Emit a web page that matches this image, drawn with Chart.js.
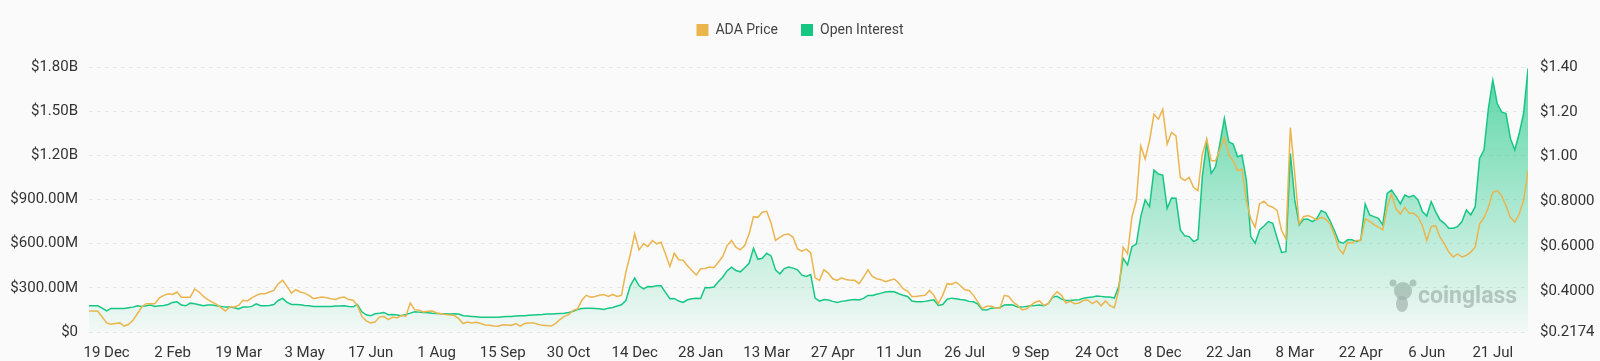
<!DOCTYPE html>
<html>
<head>
<meta charset="utf-8">
<script src="https://cdn.jsdelivr.net/npm/chart.js@4.4.1/dist/chart.umd.min.js"></script>
<style>
  html, body { margin: 0; padding: 0; background: #fafafa; }
  #wrap { width: 1600px; height: 361px; position: relative; }
</style>
</head>
<body>
<div id="wrap"><canvas id="chart"></canvas></div>
<script>
// Série diária amostrada a cada 3 dias, a partir de 7 Dez 2022
const startDate = '2022-12-07';
const stepDays = 3;

// Rótulos do eixo X (datas)
const tickDates = [
  '2022-12-19', '2023-02-02', '2023-03-19', '2023-05-03', '2023-06-17', '2023-08-01',
  '2023-09-15', '2023-10-30', '2023-12-14', '2024-01-28', '2024-03-13', '2024-04-27',
  '2024-06-11', '2024-07-26', '2024-09-09', '2024-10-24', '2024-12-08', '2025-01-22',
  '2025-03-08', '2025-04-22', '2025-06-06', '2025-07-21'
];
const monthNames = ['Jan', 'Feb', 'Mar', 'Apr', 'May', 'Jun', 'Jul', 'Aug', 'Sep', 'Oct', 'Nov', 'Dec'];

// Ticks do eixo direito (preço)
const priceTicks = [0.2174, 0.4, 0.6, 0.8, 1.0, 1.2, 1.4];

// Open Interest (milhões de USD)
const openInterestM = [
  178, 178, 178, 162, 144, 160, 160, 160, 160, 165,
  169, 178, 174, 178, 183, 174, 178, 180, 187, 201,
  205, 183, 178, 196, 192, 185, 178, 183, 183, 178,
  174, 169, 169, 165, 156, 169, 169, 174, 192, 178,
  178, 180, 187, 214, 228, 201, 187, 187, 185, 180,
  178, 174, 174, 174, 174,
  174, 176, 176, 178, 174, 171, 187, 137, 117, 110,
  124, 128, 133, 117, 119, 115, 110, 119, 128, 137,
  135, 133, 131, 128, 126, 124, 124, 122, 124, 122,
  110, 108, 106, 104, 101, 101, 101, 101, 101, 104,
  106, 106, 108, 110, 110, 113, 115, 117, 119, 122,
  122, 124, 126, 128, 133,
  140, 153, 160, 162, 162, 160, 158, 153, 162, 167,
  176, 185, 214, 314, 366, 314, 293, 309, 307, 314,
  314, 269, 226, 228, 210, 201, 219, 226, 230, 228,
  302, 300, 305, 341, 372, 415, 440, 418, 409, 436,
  467, 569, 494, 501, 535, 517, 422, 395, 431, 442,
  434, 422, 386, 377,
  390, 230, 210, 221, 217, 208, 201, 208, 212, 217,
  221, 217, 228, 248, 248, 257, 264, 271, 275, 273,
  260, 250, 241, 210, 205, 205, 208, 214, 219, 180,
  187, 223, 230, 226, 221, 217, 208, 205, 189, 151,
  149, 162, 165, 167, 183, 185, 183, 169, 169, 174,
  178, 180, 183, 178, 194,
  237, 242, 223, 214, 214, 217, 219, 230, 235, 237,
  244, 242, 237, 237, 230, 309, 501, 456, 580, 598,
  784, 897, 851, 1100, 1073, 1066, 840, 910, 908, 693,
  653, 648, 614, 630, 1055, 1292, 1077, 1122, 1281, 1450,
  1292, 1276, 1190, 1202, 1032, 648, 603, 693, 720, 750,
  738, 637, 540, 546,
  1213, 897, 727, 766, 766, 750, 770, 824, 811, 757,
  689, 614, 603, 626, 626, 614, 626, 870, 795, 784,
  772, 727, 942, 964, 919, 870, 930, 915, 928, 897,
  818, 788, 885, 818, 761, 738, 705, 705, 716, 750,
  829, 795, 851, 1179, 1236, 1518, 1710, 1552, 1495, 1484,
  1315, 1236, 1348, 1484, 1789
];

// Preço ADA (USD)
const adaPrice = [
  0.311, 0.311, 0.310, 0.284, 0.258, 0.252, 0.255, 0.258, 0.244, 0.252,
  0.270, 0.299, 0.329, 0.344, 0.344, 0.344, 0.370, 0.381, 0.388, 0.385,
  0.396, 0.373, 0.373, 0.373, 0.409, 0.396, 0.376, 0.362, 0.351, 0.341,
  0.326, 0.311, 0.329, 0.329, 0.336, 0.359, 0.356, 0.370, 0.381, 0.388,
  0.388, 0.396, 0.403, 0.433, 0.448, 0.421, 0.391, 0.406, 0.396, 0.391,
  0.381, 0.366, 0.370, 0.373, 0.370,
  0.366, 0.363, 0.370, 0.373, 0.362, 0.359, 0.336, 0.287, 0.267, 0.258,
  0.262, 0.284, 0.287, 0.273, 0.284, 0.280, 0.292, 0.287, 0.347, 0.317,
  0.314, 0.307, 0.310, 0.311, 0.302, 0.299, 0.296, 0.293, 0.292, 0.277,
  0.255, 0.262, 0.258, 0.261, 0.255, 0.249, 0.247, 0.244, 0.243, 0.250,
  0.249, 0.247, 0.255, 0.244, 0.255, 0.258, 0.258, 0.252, 0.247, 0.246,
  0.244, 0.255, 0.273, 0.287, 0.295,
  0.314, 0.320, 0.359, 0.381, 0.373, 0.376, 0.381, 0.385, 0.376, 0.385,
  0.376, 0.381, 0.485, 0.563, 0.655, 0.584, 0.611, 0.599, 0.626, 0.611,
  0.618, 0.566, 0.510, 0.569, 0.540, 0.537, 0.513, 0.492, 0.471, 0.500,
  0.501, 0.507, 0.504, 0.529, 0.554, 0.603, 0.626, 0.596, 0.584, 0.603,
  0.655, 0.732, 0.729, 0.752, 0.756, 0.703, 0.626, 0.640, 0.652, 0.655,
  0.640, 0.588, 0.578, 0.587,
  0.570, 0.459, 0.448, 0.495, 0.480, 0.455, 0.448, 0.459, 0.452, 0.448,
  0.448, 0.433, 0.462, 0.495, 0.465, 0.455, 0.451, 0.442, 0.448, 0.454,
  0.436, 0.411, 0.400, 0.376, 0.376, 0.379, 0.381, 0.403, 0.381, 0.344,
  0.381, 0.433, 0.430, 0.440, 0.425, 0.406, 0.403, 0.381, 0.351, 0.322,
  0.332, 0.332, 0.326, 0.324, 0.381, 0.376, 0.351, 0.336, 0.317, 0.320,
  0.336, 0.350, 0.356, 0.336, 0.344,
  0.377, 0.397, 0.381, 0.347, 0.354, 0.344, 0.347, 0.359, 0.359, 0.344,
  0.356, 0.334, 0.356, 0.335, 0.326, 0.403, 0.596, 0.566, 0.732, 0.804,
  1.048, 0.989, 1.071, 1.189, 1.167, 1.211, 1.056, 1.108, 1.093, 0.907,
  0.893, 0.907, 0.863, 0.848, 1.011, 1.078, 0.982, 0.982, 1.033, 1.085,
  1.008, 0.982, 0.937, 0.945, 0.804, 0.722, 0.685, 0.789, 0.801, 0.781,
  0.774, 0.759, 0.670, 0.633,
  1.130, 0.922, 0.700, 0.732, 0.737, 0.729, 0.718, 0.729, 0.721, 0.700,
  0.652, 0.589, 0.566, 0.618, 0.614, 0.626, 0.626, 0.722, 0.712, 0.697,
  0.685, 0.673, 0.774, 0.833, 0.767, 0.744, 0.774, 0.747, 0.747, 0.732,
  0.692, 0.626, 0.688, 0.692, 0.641, 0.611, 0.574, 0.552, 0.566, 0.552,
  0.559, 0.574, 0.596, 0.700, 0.727, 0.774, 0.841, 0.848, 0.826, 0.781,
  0.729, 0.707, 0.744, 0.804, 0.937
];

const DAY = 86400000;
const startMs = Date.parse(startDate);
const endMs = startMs + (openInterestM.length - 1) * stepDays * DAY;

const oiPoints = openInterestM.map((v, i) => ({ x: startMs + i * stepDays * DAY, y: v * 1e6 }));
const pricePoints = adaPrice.map((v, i) => ({ x: startMs + i * stepDays * DAY, y: v }));

const GREEN = '#16c784';
const GOLD = '#ebb54e';
const FONT = 'Roboto, "Noto Sans", sans-serif';

function fmtUsdLeft(v) {
  if (v === 0) return '$0';
  if (v >= 1e9) return '$' + (v / 1e9).toFixed(2) + 'B';
  return '$' + (v / 1e6).toFixed(2) + 'M';
}

function fmtUsdRight(v) {
  return '$' + (v >= 1 ? v.toFixed(2) : v.toFixed(4));
}

function fmtDate(v) {
  const d = new Date(v);
  return d.getUTCDate() + ' ' + monthNames[d.getUTCMonth()];
}

// Espaço extra abaixo da legenda
const legendMargin = {
  id: 'legendMargin',
  beforeInit(chart) {
    const fit = chart.legend.fit;
    chart.legend.fit = function () {
      fit.bind(chart.legend)();
      this.height += 20;
    };
  }
};

// Marca d'água coinglass
const watermark = {
  id: 'watermark',
  beforeDatasetsDraw(chart) {
    const c = chart.ctx;
    c.save();
    c.fillStyle = 'rgba(175,175,175,0.7)';
    // ícone simplificado
    c.beginPath();
    c.arc(1403, 291, 9, 0, Math.PI * 2);
    c.fill();
    c.beginPath();
    c.ellipse(1402, 304, 6, 8, 0, 0, Math.PI * 2);
    c.fill();
    c.beginPath();
    c.arc(1393, 283, 3.5, 0, Math.PI * 2);
    c.arc(1413, 283, 3.5, 0, Math.PI * 2);
    c.fill();
    c.font = 'bold 23px ' + FONT;
    c.textBaseline = 'middle';
    c.fillText('coinglass', 1418, 297);
    c.restore();
  }
};

const ctx = document.getElementById('chart');

new Chart(ctx, {
  type: 'line',
  data: {
    datasets: [{
      label: 'ADA Price',
      data: pricePoints,
      yAxisID: 'y1',
      borderColor: GOLD,
      backgroundColor: GOLD,
      borderWidth: 1.5,
      pointRadius: 0,
      tension: 0,
      fill: false
    },
    {
      label: 'Open Interest',
      data: oiPoints,
      yAxisID: 'y',
      borderColor: GREEN,
      borderWidth: 1.5,
      pointRadius: 0,
      tension: 0,
      fill: 'origin',
      backgroundColor: function (context) {
        const { chart } = context;
        const area = chart.chartArea;
        if (!area) return 'rgba(22,199,132,0.2)';
        const g = chart.ctx.createLinearGradient(0, area.top, 0, area.bottom);
        g.addColorStop(0, 'rgba(22,199,132,0.7)');
        g.addColorStop(1, 'rgba(22,199,132,0.03)');
        return g;
      }
    }]
  },
  options: {
    responsive: true,
    maintainAspectRatio: false,
    animation: false,
    layout: { padding: 0 },
    plugins: {
      legend: {
        position: 'top',
        labels: {
          boxWidth: 12,
          boxHeight: 12,
          padding: 23,
          color: '#444',
          font: { family: FONT, size: 14 },
          generateLabels(chart) {
            return chart.data.datasets.map((ds, i) => ({
              text: ds.label,
              fillStyle: ds.borderColor,
              strokeStyle: ds.borderColor,
              lineWidth: 0,
              fontColor: '#444',
              datasetIndex: i
            }));
          }
        }
      },
      tooltip: { enabled: false }
    },
    scales: {
      x: {
        type: 'linear',
        min: startMs,
        max: endMs,
        grid: { display: false },
        border: { display: false },
        afterBuildTicks(scale) {
          scale.ticks = tickDates.map(d => ({ value: Date.parse(d) }));
        },
        afterFit(scale) { scale.height = 29; },
        ticks: {
          autoSkip: false,
          maxRotation: 0,
          padding: 4,
          color: '#333',
          font: { family: FONT, size: 15 },
          callback: v => fmtDate(v)
        }
      },
      y: {
        position: 'left',
        min: 0,
        max: 1.8e9,
        afterFit(scale) { scale.width = 89; },
        grid: { color: '#e6e6e6', drawTicks: false },
        border: { display: false, dash: [4, 4] },
        ticks: {
          stepSize: 3e8,
          padding: 11,
          color: '#333',
          font: { family: FONT, size: 15 },
          callback: v => fmtUsdLeft(v)
        }
      },
      y1: {
        position: 'right',
        min: 0.2174,
        max: 1.4,
        afterFit(scale) { scale.width = 72; },
        afterBuildTicks(scale) {
          scale.ticks = priceTicks.map(v => ({ value: v }));
        },
        grid: { display: false, drawTicks: false },
        border: { display: false },
        ticks: {
          padding: 12,
          color: '#333',
          font: { family: FONT, size: 15 },
          callback: v => fmtUsdRight(v)
        }
      }
    }
  },
  plugins: [legendMargin, watermark]
});
</script>
</body>
</html>
